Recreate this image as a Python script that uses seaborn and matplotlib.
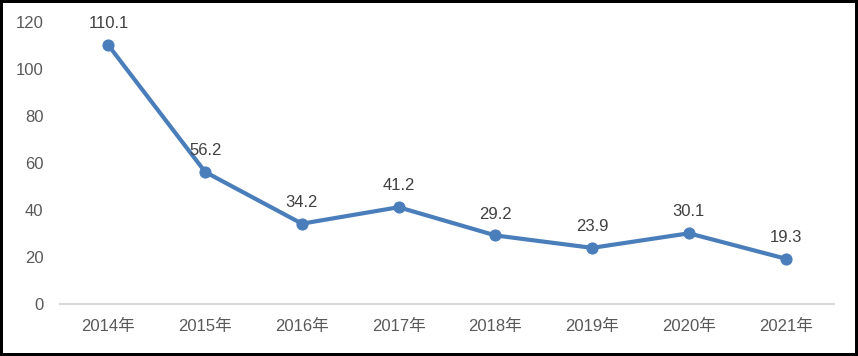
import numpy as np
import pandas as pd
import matplotlib
matplotlib.use("Agg")
import matplotlib.pyplot as plt
import seaborn as sns

years = ["2014年", "2015年", "2016年", "2017年", "2018年", "2019年", "2020年", "2021年"]
values = [110.1, 56.2, 34.2, 41.2, 29.2, 23.9, 30.1, 19.3]
y_ticks = [0, 20, 40, 60, 80, 100, 120]


def create_plot():
    df = pd.DataFrame({"year": years, "value": values})
    df["pos"] = np.arange(len(df))

    sns.set_theme(style="white")
    plt.rcParams["font.family"] = ["Liberation Sans", "Noto Sans CJK SC"]

    fig = plt.figure(figsize=(8.58, 3.56), dpi=100)
    fig.patch.set_edgecolor("black")
    fig.patch.set_linewidth(3)
    ax = fig.add_axes([0.070, 0.146, 0.902, 0.792])

    color = "#4A7EBB"
    sns.lineplot(data=df, x="pos", y="value", ax=ax, color=color, linewidth=3,
                 marker="o", markersize=8, markeredgecolor=color)

    for x, y in zip(df["pos"], df["value"]):
        ax.annotate(f"{y:.1f}", (x, y), xytext=(0, 10), textcoords="offset points",
                    ha="center", va="bottom", fontsize=12, color="#404040")

    ax.set_xlim(-0.5, len(years) - 0.5)
    ax.set_ylim(0, 120)
    ax.set_xticks(df["pos"])
    ax.set_xticklabels(years)
    ax.set_yticks(y_ticks)
    ax.set_xlabel("")
    ax.set_ylabel("")
    ax.tick_params(axis="both", length=0, labelsize=12, labelcolor="#595959")
    ax.tick_params(axis="x", pad=11)
    ax.tick_params(axis="y", pad=12)
    for side in ["left", "right", "top"]:
        ax.spines[side].set_visible(False)
    ax.spines["bottom"].set_color("#D9D9D9")
    ax.spines["bottom"].set_linewidth(1.5)
    ax.grid(False)

    fig.savefig("out.png", dpi=100, edgecolor=fig.get_edgecolor())
    return ax


if __name__ == "__main__":
    create_plot()
